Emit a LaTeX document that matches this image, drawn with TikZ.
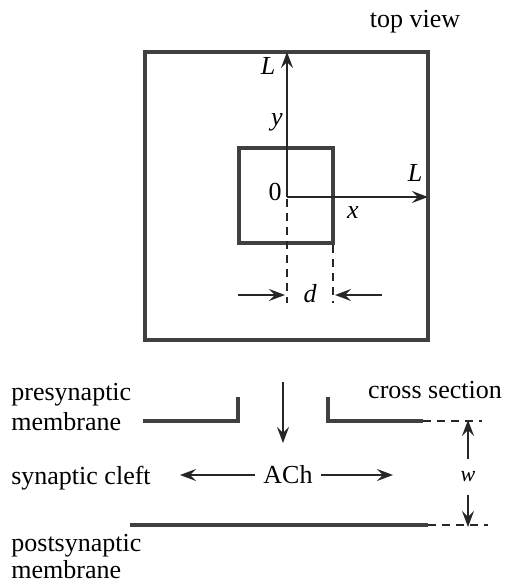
\documentclass[tikz,border=0pt]{standalone}
\usepackage{fontspec}
\setmainfont{Liberation Serif}
\usetikzlibrary{arrows.meta}
\begin{document}
\begin{tikzpicture}[x=0.5pt,y=-0.5pt,
  wall/.style={line width=2pt,draw=black!75},
  memb/.style={line width=1.8pt,draw=black!75},
  axis/.style={line width=0.8pt,draw=black!85},
  dashline/.style={line width=0.9pt,draw=black!85,dash pattern=on 4pt off 3pt},
  arr/.style={line width=0.8pt,draw=black!85,-{Stealth[length=8pt,width=6pt,inset=3pt]}},
  lbl/.style={font=\fontsize{13}{15}\selectfont,inner sep=1pt},
  mlbl/.style={font=\fontsize{13}{15}\selectfont\itshape,inner sep=1pt}]
\useasboundingbox (0,0) rectangle (506,585);
% top view
\draw[wall] (145,52) rectangle (428,340);
\draw[wall] (239,148) rectangle (333,243);
\coordinate (O) at (287,197);
\coordinate (Ly) at (287,52);
\coordinate (Lx) at (428,197);
\draw[arr] (O) -- (Ly);
\draw[arr] (O) -- (Lx);
\coordinate (dl1) at (287,199);
\coordinate (dl2) at (287,303);
\coordinate (dr1) at (333,245);
\coordinate (dr2) at (333,303);
\draw[dashline] (dl1) -- (dl2);
\draw[dashline] (dr1) -- (dr2);
\coordinate (da1) at (238,295);
\coordinate (da2) at (285,295);
\coordinate (db1) at (382,295);
\coordinate (db2) at (335,295);
\draw[arr] (da1) -- (da2);
\draw[arr] (db1) -- (db2);
\node[lbl] (tv) at (415,22) {top view};
\node[mlbl] (Lt) at (268,66) {L};
\node[mlbl] (yl) at (277,122) {y};
\node[mlbl] (Lr) at (415,173) {L};
\node[lbl] (zero) at (275,192) {0};
\node[mlbl] (xl) at (353,213) {x};
\node[mlbl] (dl) at (310,294) {d};
% cross section
\node[lbl,anchor=west,align=left] (pre) at (9,407) {presynaptic\\membrane};
\node[lbl] (cs) at (435,390) {cross section};
\node[lbl] (cleft) at (81,478) {synaptic cleft};
\node[lbl,anchor=west,align=left,font=\fontsize{13}{13.5}\selectfont] (post) at (9,557) {postsynaptic\\membrane};
\draw[memb] (143,421) -- (238,421) -- (238,397);
\draw[memb] (328,397) -- (328,421) -- (423,421);
\draw[dashline] (423,421) -- (482,421);
\draw[memb] (130,525) -- (428,525);
\draw[dashline] (428,525) -- (488,525);
\coordinate (din1) at (283,382);
\coordinate (din2) at (283,443);
\draw[arr] (din1) -- (din2);
\node[lbl,inner sep=4pt] (ach) at (288,475) {ACh};
\coordinate (achL) at (180,475);
\coordinate (achR) at (393,475);
\draw[arr] (ach.west) -- (achL);
\draw[arr] (ach.east) -- (achR);
\node[mlbl,font=\fontsize{11}{13}\selectfont\itshape,inner sep=6pt] (w) at (468,477) {w};
\coordinate (wt) at (468,420);
\coordinate (wb) at (468,527);
\draw[arr] (w.north) -- (wt);
\draw[arr] (w.south) -- (wb);
\end{tikzpicture}
\end{document}
